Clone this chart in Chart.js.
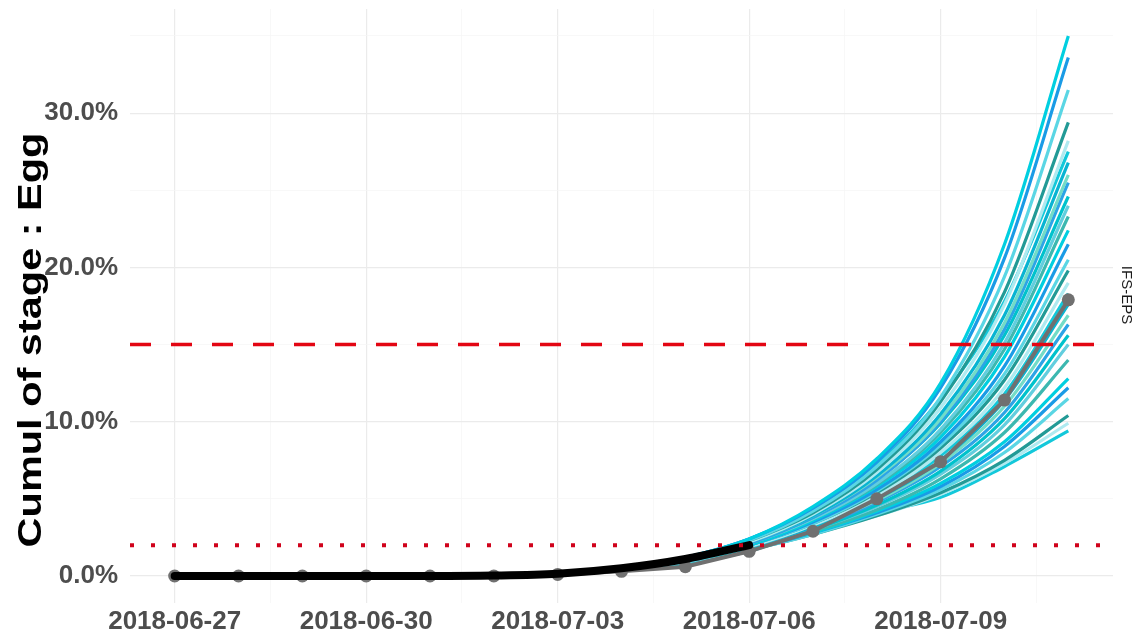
<!DOCTYPE html>
<html>
<head>
<meta charset="utf-8">
<script src="https://cdn.jsdelivr.net/npm/chart.js@4/dist/chart.umd.min.js"></script>
<style>
  html, body { margin: 0; padding: 0; background: #fff; }
  #wrap { width: 1140px; height: 637px; }
</style>
</head>
<body>
<div id="wrap"><canvas id="myChart" width="1140" height="637"></canvas></div>
<script>
// days from 2018-06-27
var dates = ['2018-06-27','2018-06-28','2018-06-29','2018-06-30','2018-07-01','2018-07-02','2018-07-03',
  '2018-07-04','2018-07-05','2018-07-06','2018-07-07','2018-07-08','2018-07-09','2018-07-10','2018-07-11']

// observed cumul (%), up to 2018-07-06
var observed = [0, 0, 0, 0, 0, 0.03, 0.15, 0.5, 1.1, 2.0]

// simulated cumul (%), whole period
var simulated = [0, 0, 0, 0, 0, 0, 0.1, 0.3, 0.6, 1.6, 2.9, 5.0, 7.4, 11.4, 17.9]

// IFS-EPS members (%), from 2018-07-04 to 2018-07-11
var membersStart = 7
var members = [
  [0.5, 1.2, 2.4, 4.5, 7.6, 12.5, 21.5, 35.0],
  [0.5, 1.2, 2.4, 4.4, 7.4, 12.2, 20.6, 33.6],
  [0.5, 1.2, 2.3, 4.2, 7.1, 11.6, 19.4, 31.5],
  [0.5, 1.1, 2.3, 4.1, 6.9, 11.3, 18.4, 29.4],
  [0.5, 1.1, 2.2, 4.0, 6.7, 10.9, 17.6, 28.2],
  [0.5, 1.2, 2.4, 4.3, 7.2, 11.5, 17.8, 27.5],
  [0.5, 1.1, 2.2, 3.9, 6.5, 10.5, 16.9, 26.8],
  [0.5, 1.1, 2.2, 3.9, 6.4, 10.2, 16.4, 26.0],
  [0.4, 1.1, 2.1, 3.8, 6.2, 10.0, 16.0, 25.5],
  [0.5, 1.1, 2.2, 3.8, 6.3, 9.9, 15.6, 24.6],
  [0.4, 1.0, 2.1, 3.7, 6.0, 9.5, 15.1, 24.0],
  [0.5, 1.1, 2.1, 3.7, 5.9, 9.3, 14.7, 23.3],
  [0.4, 1.0, 2.0, 3.6, 5.8, 9.0, 14.2, 22.4],
  [0.4, 1.0, 2.0, 3.5, 5.6, 8.7, 13.6, 21.5],
  [0.4, 1.0, 2.0, 3.4, 5.5, 8.5, 13.1, 20.5],
  [0.4, 1.0, 2.0, 3.4, 5.4, 8.3, 12.7, 19.8],
  [0.4, 1.0, 1.9, 3.3, 5.2, 8.0, 12.2, 19.0],
  [0.4, 1.0, 1.9, 3.3, 5.1, 7.8, 11.8, 18.3],
  [0.4, 1.0, 1.9, 3.2, 5.0, 7.5, 11.4, 17.6],
  [0.4, 1.0, 1.9, 3.2, 4.9, 7.3, 11.0, 16.9],
  [0.4, 1.0, 1.9, 3.1, 4.8, 7.1, 10.6, 16.3],
  [0.4, 1.0, 1.8, 3.0, 4.6, 6.8, 10.2, 15.6],
  [0.4, 0.9, 1.8, 3.0, 4.5, 6.6, 9.8, 15.0],
  [0.4, 0.9, 1.8, 2.9, 4.3, 6.3, 9.3, 14.0],
  [0.4, 0.9, 1.8, 2.8, 4.2, 6.0, 8.7, 12.8],
  [0.4, 0.9, 1.7, 2.8, 4.1, 5.8, 8.4, 12.2],
  [0.4, 0.9, 1.7, 2.7, 4.0, 5.6, 8.0, 11.5],
  [0.4, 0.9, 1.7, 2.7, 3.9, 5.4, 7.5, 10.4],
  [0.4, 0.9, 1.7, 2.8, 3.9, 5.3, 7.3, 9.9],
  [0.4, 0.8, 1.6, 3.0, 4.1, 5.1, 7.1, 9.4]
]

// alert thresholds (%)
var upperThreshold = 15
var lowerThreshold = 2

var yTicks = [0, 10, 20, 30]

var memberColors = ['#00cfe0', '#1a9be6', '#5ad6e4', '#229a96', '#aeeaf0', '#13c8da', '#08b4d2',
  '#72dcc8', '#2ca4e6', '#00c2cc', '#62cede', '#3cb8b0']

var xMin = -0.7, xMax = 14.7
var font = '"Liberation Sans", Arial, sans-serif'

var datasets = []

members.forEach(function(m, i) {
  datasets.push({
    data: m.map(function(v, j) { return { x: membersStart + j, y: v } }),
    borderColor: memberColors[i % memberColors.length],
    borderWidth: 3.2,
    pointRadius: 0,
    cubicInterpolationMode: 'monotone',
    order: 5
  })
})

datasets.push({
  data: simulated.map(function(v, j) { return { x: j, y: v } }),
  borderColor: '#707070',
  backgroundColor: '#707070',
  borderWidth: 4,
  pointRadius: 6.5,
  pointBorderWidth: 0,
  tension: 0,
  order: 3
})

datasets.push({
  data: observed.map(function(v, j) { return { x: j, y: v } }),
  borderColor: '#000000',
  borderWidth: 8,
  pointRadius: 0,
  cubicInterpolationMode: 'monotone',
  borderCapStyle: 'round',
  order: 2
})

datasets.push({
  data: [{ x: xMin, y: upperThreshold }, { x: xMax, y: upperThreshold }],
  borderColor: '#e30613',
  borderWidth: 3.5,
  borderDash: [21, 20],
  pointRadius: 0,
  order: 1
})

datasets.push({
  data: [{ x: xMin, y: lowerThreshold }, { x: xMax, y: lowerThreshold }],
  borderColor: '#d0021b',
  borderWidth: 4,
  borderDash: [4, 17],
  pointRadius: 0,
  order: 1
})

// axis title on the left and strip label on the right
var sideText = {
  id: 'sideText',
  afterDraw: function(chart) {
    var c = chart.ctx
    c.save()
    c.fillStyle = '#000'
    c.font = 'bold 34px ' + font
    c.textAlign = 'center'
    c.textBaseline = 'middle'
    c.translate(32, 340)
    c.rotate(-Math.PI / 2)
    c.scale(1.22, 1)
    c.fillText('Cumul of stage : Egg', 0, 0)
    c.restore()

    c.save()
    c.fillStyle = '#1a1a1a'
    c.font = '15px ' + font
    c.textAlign = 'center'
    c.textBaseline = 'middle'
    c.translate(1126, 295)
    c.rotate(Math.PI / 2)
    c.fillText('IFS-EPS', 0, 0)
    c.restore()
  }
}

var ctx = document.getElementById('myChart').getContext('2d')
var myChart = new Chart(ctx, {
  type: 'line',
  data: { datasets: datasets },
  plugins: [sideText],
  options: {
    responsive: false,
    animation: false,
    devicePixelRatio: 1,
    layout: { padding: { left: 0, right: 27, top: 9, bottom: 0 } },
    plugins: { legend: { display: false }, tooltip: { enabled: false } },
    scales: {
      x: {
        type: 'linear',
        min: xMin,
        max: xMax,
        afterBuildTicks: function(scale) {
          var t = []
          for (var v = 0; v <= 13.5; v += 1.5) t.push({ value: v })
          scale.ticks = t
        },
        afterFit: function(scale) {
          scale.height = 34
          scale.paddingLeft = 0
          scale.paddingRight = 0
        },
        border: { display: false },
        grid: {
          drawTicks: false,
          color: function(c) { return c.tick && c.tick.value % 3 === 0 ? '#ebebeb' : '#f5f5f5' },
          lineWidth: function(c) { return c.tick && c.tick.value % 3 === 0 ? 1.2 : 0.7 }
        },
        ticks: {
          autoSkip: false,
          maxRotation: 0,
          padding: 3,
          color: '#4d4d4d',
          font: { family: font, size: 26, weight: 'bold' },
          callback: function(v) { return v % 3 === 0 ? dates[v] : '' }
        }
      },
      y: {
        min: -1.75,
        max: 36.75,
        afterBuildTicks: function(scale) {
          var t = []
          for (var v = 0; v <= 35; v += 5) t.push({ value: v })
          scale.ticks = t
        },
        afterFit: function(scale) {
          scale.width = 130
          scale.paddingTop = 0
          scale.paddingBottom = 0
        },
        border: { display: false },
        grid: {
          drawTicks: false,
          color: function(c) { return c.tick && yTicks.indexOf(c.tick.value) >= 0 ? '#ebebeb' : '#f5f5f5' },
          lineWidth: function(c) { return c.tick && yTicks.indexOf(c.tick.value) >= 0 ? 1.2 : 0.7 }
        },
        ticks: {
          padding: 12,
          color: '#4d4d4d',
          font: { family: font, size: 26, weight: 'bold' },
          callback: function(v) { return yTicks.indexOf(v) >= 0 ? v.toFixed(1) + '%' : '' }
        }
      }
    }
  }
})
</script>
</body>
</html>
